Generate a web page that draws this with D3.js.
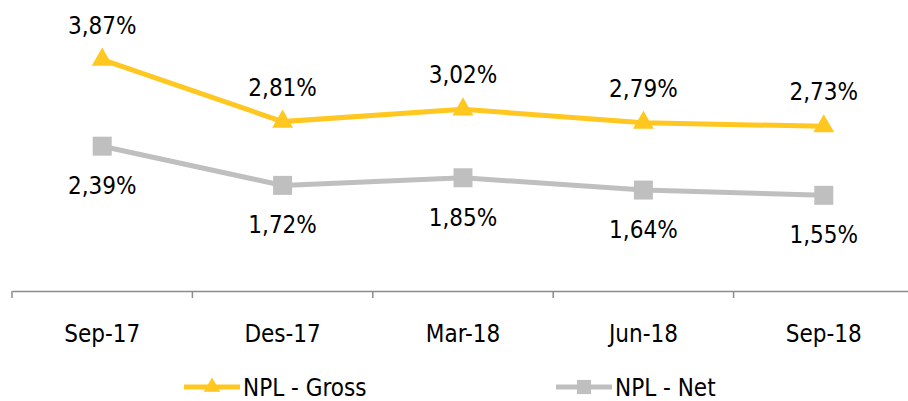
<!DOCTYPE html>
<html lang="en">
<head>
    <meta charset="UTF-8" />
    <title>NPL Gross / Net</title>
    <script src="https://d3js.org/d3.v7.min.js"></script>
    <style>
        html, body {
            margin: 0;
            padding: 0;
            background: #fff;
            overflow: hidden;
        }
        svg {
            display: block;
        }
        svg text {
            font-family: "DejaVu Sans", sans-serif;
            font-stretch: condensed;
        }
    </style>
</head>
<body>
    <svg width="908" height="401"></svg>
    <script>
        // data
        const periods = ["Sep-17", "Des-17", "Mar-18", "Jun-18", "Sep-18"];
        const nplGross = [3.87, 2.81, 3.02, 2.79, 2.73];
        const nplNet = [2.39, 1.72, 1.85, 1.64, 1.55];
        const seriesNames = ["NPL - Gross", "NPL - Net"];

        const yellow = "#ffc720";
        const grey = "#bfbfbf";

        const svg = d3.select("svg");

        const x = d3.scaleBand().domain(periods).range([12, 914]).padding(0);
        const y = d3.scaleLinear().domain([0, 4.5]).range([286, 286 - 4.5 * 58.5]);
        const cx = d => x(d) + x.bandwidth() / 2;

        const fmt = v => v.toFixed(2).replace(".", ",") + "%";

        // x axis: baseline with tick marks between categories
        const axisY = 291;
        const axisG = svg.append("g")
            .attr("transform", `translate(0,${axisY})`)
            .call(d3.axisBottom(x).tickSize(0).tickSizeOuter(0).tickPadding(0));
        axisG.attr("font-family", null).attr("font-size", null);
        axisG.select(".domain").attr("stroke", "#8c8c8c").attr("stroke-width", 1.5);
        axisG.selectAll(".tick text")
            .attr("font-size", 24)
            .attr("fill", "#000")
            .attr("dy", null)
            .attr("y", 51);
        axisG.selectAll(".sep")
            .data(periods)
            .join("line")
            .attr("class", "sep")
            .attr("x1", d => x(d)).attr("x2", d => x(d))
            .attr("y1", 0).attr("y2", 7)
            .attr("stroke", "#8c8c8c")
            .attr("stroke-width", 1.5);

        const line = d3.line()
            .x((d, i) => cx(periods[i]))
            .y(d => y(d));

        function drawSeries(values, color, symbol, size, labelOffset) {
            const g = svg.append("g");
            g.append("path")
                .datum(values)
                .attr("d", line)
                .attr("fill", "none")
                .attr("stroke", color)
                .attr("stroke-width", 5);
            g.selectAll(".marker")
                .data(values)
                .join("path")
                .attr("class", "marker")
                .attr("transform", (d, i) => `translate(${cx(periods[i])},${y(d)})`)
                .attr("d", d3.symbol().type(symbol).size(size))
                .attr("fill", color);
            g.selectAll(".lbl")
                .data(values)
                .join("text")
                .attr("class", "lbl")
                .attr("x", (d, i) => cx(periods[i]))
                .attr("y", d => y(d) + labelOffset)
                .attr("text-anchor", "middle")
                .attr("font-size", 24)
                .attr("fill", "#000")
                .text(fmt);
        }

        drawSeries(nplNet, grey, d3.symbolSquare, 361, 48);
        drawSeries(nplGross, yellow, d3.symbolTriangle, 190, -26);

        // legend
        const legendItems = [
            { name: seriesNames[0], color: yellow, symbol: d3.symbolTriangle, size: 120, x0: 184 },
            { name: seriesNames[1], color: grey, symbol: d3.symbolSquare, size: 200, x0: 556 }
        ];
        const legendY = 387;
        const lg = svg.append("g")
            .selectAll("g")
            .data(legendItems)
            .join("g")
            .attr("transform", d => `translate(${d.x0},${legendY})`);
        lg.append("line")
            .attr("x1", 0).attr("x2", 56)
            .attr("stroke", d => d.color)
            .attr("stroke-width", 5);
        lg.append("path")
            .attr("transform", "translate(28,0)")
            .attr("d", d => d3.symbol().type(d.symbol).size(d.size)())
            .attr("fill", d => d.color);
        lg.append("text")
            .attr("x", 59)
            .attr("y", 9)
            .attr("font-size", 24)
            .attr("fill", "#000")
            .text(d => d.name);
    </script>
</body>
</html>
